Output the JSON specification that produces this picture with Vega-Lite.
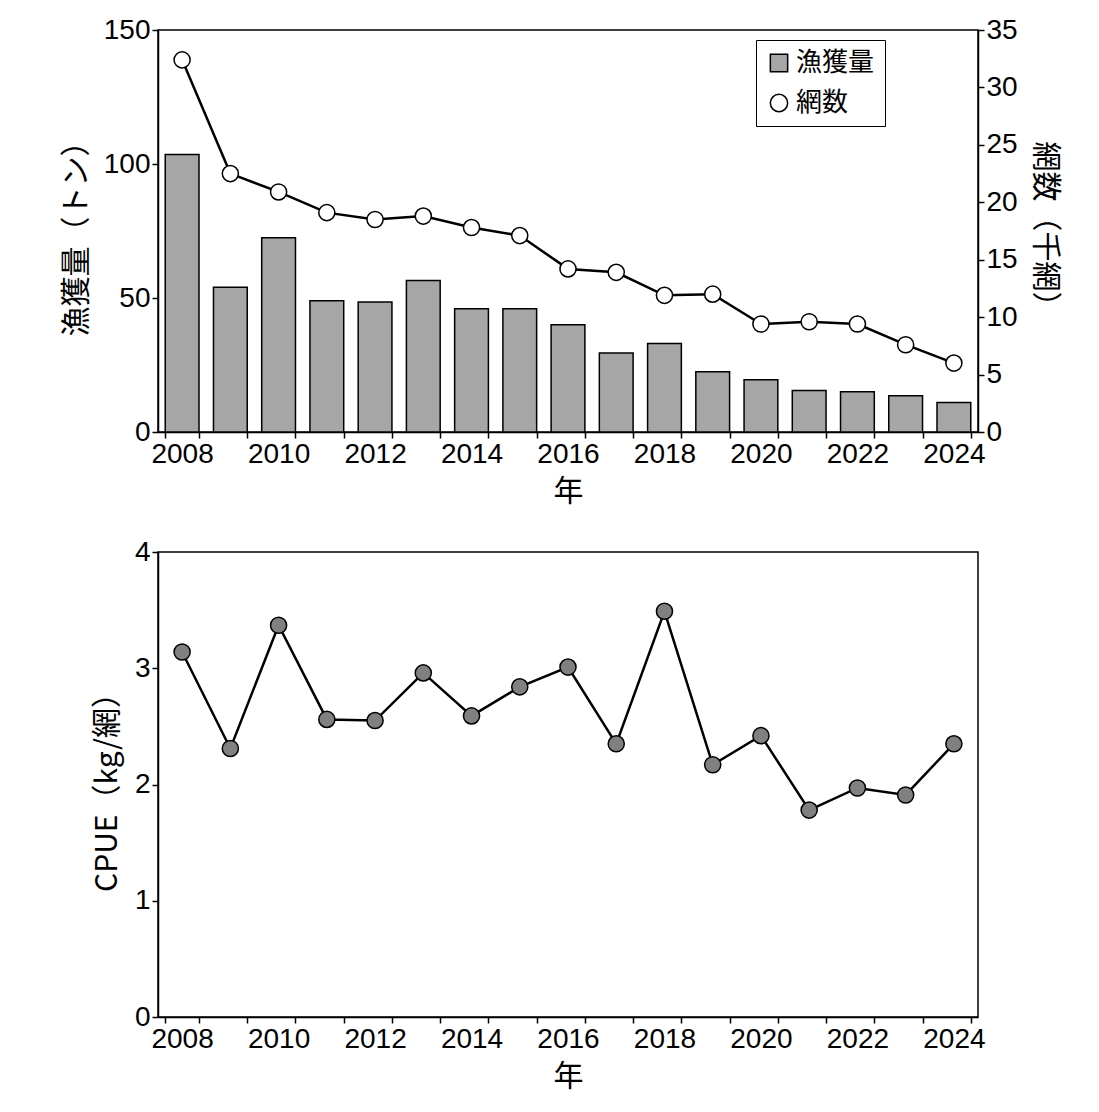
{
  "$schema": "https://vega.github.io/schema/vega-lite/v6.json",
  "background": "white",
  "padding": {"left": 60, "top": 15, "right": 5, "bottom": 0},
  "datasets": {
    "main": [
      {"year": "2008", "catch": 103.5, "nets": 32.4, "cpue": 3.14},
      {"year": "2009", "catch": 54, "nets": 22.5, "cpue": 2.31},
      {"year": "2010", "catch": 72.5, "nets": 20.9, "cpue": 3.37},
      {"year": "2011", "catch": 49, "nets": 19.1, "cpue": 2.56},
      {"year": "2012", "catch": 48.5, "nets": 18.5, "cpue": 2.55},
      {"year": "2013", "catch": 56.5, "nets": 18.8, "cpue": 2.96},
      {"year": "2014", "catch": 46, "nets": 17.8, "cpue": 2.59},
      {"year": "2015", "catch": 46, "nets": 17.1, "cpue": 2.84},
      {"year": "2016", "catch": 40, "nets": 14.2, "cpue": 3.01},
      {"year": "2017", "catch": 29.5, "nets": 13.9, "cpue": 2.35},
      {"year": "2018", "catch": 33, "nets": 11.9, "cpue": 3.49},
      {"year": "2019", "catch": 22.5, "nets": 12.0, "cpue": 2.17},
      {"year": "2020", "catch": 19.5, "nets": 9.4, "cpue": 2.42},
      {"year": "2021", "catch": 15.5, "nets": 9.6, "cpue": 1.78},
      {"year": "2022", "catch": 15, "nets": 9.4, "cpue": 1.97},
      {"year": "2023", "catch": 13.5, "nets": 7.6, "cpue": 1.91},
      {"year": "2024", "catch": 11, "nets": 6.0, "cpue": 2.35}
    ]
  },
  "data": {"name": "main"},
  "spacing": 30,
  "vconcat": [
    {
      "width": 820,
      "height": 402,
      "resolve": {"scale": {"y": "independent"}},
      "encoding": {
        "x": {"field": "year", "type": "ordinal", "scale": {"paddingInner": 0.3, "paddingOuter": 0.15},
          "axis": {"title": "年", "labelAngle": 0, "labelExpr": "toNumber(datum.value) % 2 == 0 ? datum.value : ''", "tickBand": "extent"}}
      },
      "layer": [
        {
          "mark": {"type": "bar", "stroke": "black", "strokeWidth": 1.5},
          "encoding": {
            "y": {"field": "catch", "type": "quantitative", "scale": {"domain": [0, 150]},
              "axis": {"title": "漁獲量（トン）", "values": [0, 50, 100, 150]}},
            "fill": {"datum": "漁獲量"},
            "shape": {"datum": "漁獲量"}
          }
        },
        {
          "mark": {"type": "line", "color": "black", "strokeWidth": 2.5},
          "encoding": {
            "y": {"field": "nets", "type": "quantitative", "scale": {"domain": [0, 35]},
              "axis": {"orient": "right", "title": "網数（千網）", "titleAngle": 90, "values": [0, 5, 10, 15, 20, 25, 30, 35]}}
          }
        },
        {
          "mark": {"type": "point", "filled": true, "stroke": "black", "strokeWidth": 1.5, "size": 260, "opacity": 1},
          "encoding": {
            "y": {"field": "nets", "type": "quantitative", "scale": {"domain": [0, 35]}, "axis": null},
            "fill": {"datum": "網数", "scale": {"domain": ["漁獲量", "網数"], "range": ["#a6a6a6", "white"]},
              "legend": {"orient": "none", "legendX": 598, "legendY": 10, "title": null, "symbolSize": 300, "symbolStrokeColor": "black", "symbolStrokeWidth": 1.5, "symbolOpacity": 1, "labelFontSize": 26, "labelFont": "Noto Sans CJK JP", "strokeColor": "black", "padding": 10, "rowPadding": 14}},
            "shape": {"datum": "網数", "scale": {"domain": ["漁獲量", "網数"], "range": ["square", "circle"]}}
          }
        }
      ]
    },
    {
      "width": 820,
      "height": 465,
      "mark": {"type": "line", "color": "black", "strokeWidth": 2.5, "point": {"filled": true, "fill": "#808080", "stroke": "black", "strokeWidth": 1.5, "size": 260}},
      "encoding": {
        "x": {"field": "year", "type": "ordinal", "scale": {"paddingInner": 0.3, "paddingOuter": 0.15},
          "axis": {"title": "年", "labelAngle": 0, "labelExpr": "toNumber(datum.value) % 2 == 0 ? datum.value : ''", "tickBand": "extent"}},
        "y": {"field": "cpue", "type": "quantitative", "scale": {"domain": [0, 4]},
          "axis": {"title": "CPUE（kg/網）", "values": [0, 1, 2, 3, 4]}}
      }
    }
  ],
  "config": {
    "view": {"stroke": "black", "strokeWidth": 1.5},
    "axis": {
      "grid": false, "domainColor": "black", "domainWidth": 1.5, "tickColor": "black", "tickWidth": 1.5, "tickSize": 6,
      "labelFont": "Liberation Sans", "labelFontSize": 28, "labelColor": "black",
      "titleFont": "Noto Sans CJK JP", "titleFontSize": 30, "titleFontWeight": "normal", "titleColor": "black", "titlePadding": 6
    },
    "axisX": {"titlePadding": 8},
    "axisY": {"titlePadding": 12},
    "legend": {"labelColor": "black", "fillColor": "white"}
  }
}
